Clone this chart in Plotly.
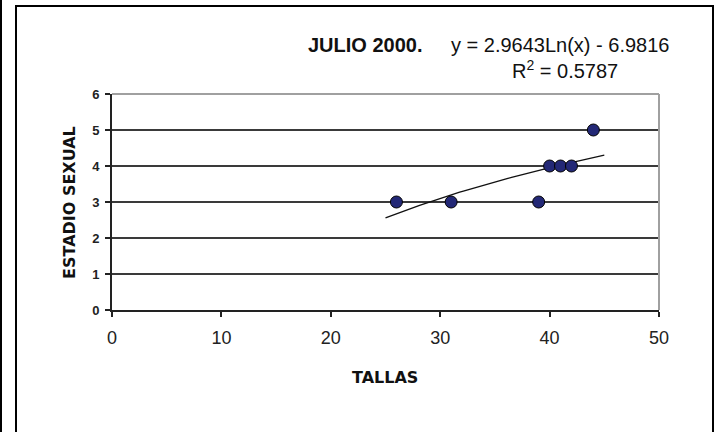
import numpy as np
import plotly.graph_objects as go

# Data
tallas = [26, 31, 39, 40, 41, 42, 44]
estadio = [3, 3, 3, 4, 4, 4, 5]
coef_a = 2.9643
coef_b = -6.9816
r2 = 0.5787
trend_range = [25, 45]
x_ticks = [0, 10, 20, 30, 40, 50]
y_ticks = [0, 1, 2, 3, 4, 5, 6]

W, H = 720, 432
L, R, T, B = 112, 659, 93.5, 310.5

def px(x):
    return (x - L) / (R - L)

def py(y):
    return (B - y) / (B - T)

tx = np.linspace(trend_range[0], trend_range[1], 60)
ty = coef_a * np.log(tx) + coef_b

fig = go.Figure()
fig.add_trace(go.Scatter(x=tx, y=ty, mode="lines",
                         line=dict(color="#111111", width=1.3),
                         hoverinfo="skip", showlegend=False))
fig.add_trace(go.Scatter(x=tallas, y=estadio, mode="markers",
                         marker=dict(size=12, color="#232876",
                                     line=dict(color="#000000", width=1)),
                         showlegend=False))

font = "Liberation Sans, Arial, sans-serif"
bold_font = "DejaVu Sans, Liberation Sans, sans-serif"

fig.update_layout(
    width=W, height=H,
    margin=dict(l=L, r=W - R, t=T, b=H - B, pad=0),
    paper_bgcolor="white", plot_bgcolor="white",
    font=dict(family=font, color="black"),
    xaxis=dict(range=[0, 50], tickvals=x_ticks, showgrid=False, zeroline=False,
               showline=True, linecolor="#222222", linewidth=2,
               ticks="outside", ticklen=5, tickwidth=2, tickcolor="#222222",
               ticklabelstandoff=5,
               tickfont=dict(size=18, family=font, color="#222222")),
    yaxis=dict(range=[0, 6], tickvals=y_ticks, showgrid=True,
               gridcolor="#3a3a3a", gridwidth=2, zeroline=False,
               showline=True, linecolor="#222222", linewidth=2,
               ticks="outside", ticklen=5, tickwidth=2, tickcolor="#222222",
               ticklabelstandoff=3,
               tickfont=dict(size=13, family=font, color="#222222",
                             weight="bold")),
    shapes=[
        # plot area border (top and right, gray)
        dict(type="line", xref="paper", yref="paper", x0=0, x1=1, y0=1, y1=1,
             line=dict(color="#a0a0a0", width=2), layer="above"),
        dict(type="line", xref="paper", yref="paper", x0=1, x1=1, y0=0, y1=1,
             line=dict(color="#a0a0a0", width=2), layer="above"),
        # outer chart frame
        dict(type="rect", xref="paper", yref="paper",
             x0=px(16), x1=px(713), y0=py(5), y1=py(450),
             line=dict(color="#000000", width=2), layer="below"),
        dict(type="line", xref="paper", yref="paper",
             x0=px(1), x1=px(1), y0=py(-5), y1=py(450),
             line=dict(color="#000000", width=2), layer="below"),
    ],
    annotations=[
        dict(text="<b>JULIO 2000.</b>", xref="paper", yref="paper",
             x=px(365), y=py(44), xanchor="center", yanchor="middle",
             showarrow=False, font=dict(size=20, family=font, color="#111111")),
        dict(text="y = 2.9643Ln(x) - 6.9816", xref="paper", yref="paper",
             x=px(560), y=py(44), xanchor="center", yanchor="middle",
             showarrow=False, font=dict(size=20, family=font, color="#111111")),
        dict(text="R<sup>2</sup> = %.4f" % r2, xref="paper", yref="paper",
             x=px(565), y=py(69), xanchor="center", yanchor="middle",
             showarrow=False, font=dict(size=20, family=font, color="#111111")),
        dict(text="<b>ESTADIO SEXUAL</b>", xref="paper", yref="paper",
             x=px(70), y=py(203), xanchor="center", yanchor="middle",
             textangle=-90, showarrow=False,
             font=dict(size=16, family=bold_font, color="#111111")),
        dict(text="<b>TALLAS</b>", xref="paper", yref="paper",
             x=px(385), y=py(378), xanchor="center", yanchor="middle",
             showarrow=False, font=dict(size=16, family=bold_font, color="#111111")),
    ],
)

fig.write_html("out.html")
